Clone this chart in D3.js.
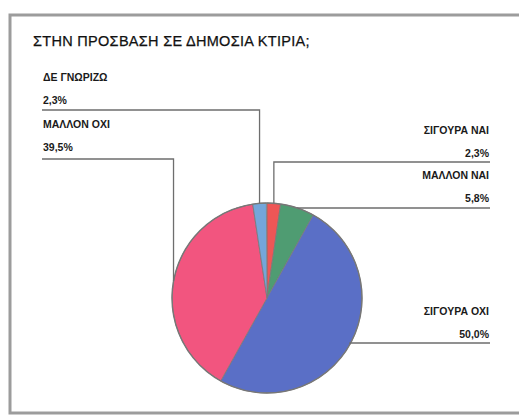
<!DOCTYPE html>
<html>
<head>
<meta charset="utf-8">
<script src="https://cdn.jsdelivr.net/npm/d3@7"></script>
<style>
  html, body { margin: 0; padding: 0; background: #fff; }
  svg { display: block; font-family: "Liberation Sans", Arial, sans-serif; }
</style>
</head>
<body>
<svg id="chart" width="519" height="417"></svg>
<script>
// Survey answers, clockwise from 12 o'clock
const categories = ["ΣΙΓΟΥΡΑ ΝΑΙ", "ΜΑΛΛΟΝ ΝΑΙ", "ΣΙΓΟΥΡΑ ΟΧΙ", "ΜΑΛΛΟΝ ΟΧΙ", "ΔΕ ΓΝΩΡΙΖΩ"];
const values = [2.3, 5.8, 50.0, 39.5, 2.3];
const valueLabels = ["2,3%", "5,8%", "50,0%", "39,5%", "2,3%"];
const colors = ["#ee5656", "#4f9c72", "#5a6fc6", "#f2557f", "#74a6da"];
const title = "ΣΤΗΝ ΠΡΟΣΒΑΣΗ ΣΕ ΔΗΜΟΣΙΑ ΚΤΙΡΙΑ;";

// Label placement: side, baseline of the value line, underline y
const labelLayout = [
  { side: "right", valueY: 157, lineY: 162 },
  { side: "right", valueY: 202, lineY: 208 },
  { side: "right", valueY: 338, lineY: 343 },
  { side: "left",  valueY: 151, lineY: 159 },
  { side: "left",  valueY: 104, lineY: 110 }
];

const svg = d3.select("#chart");

// Outer frame (right side runs past the page edge)
svg.append("rect")
  .attr("x", 10).attr("y", 15)
  .attr("width", 530).attr("height", 398)
  .attr("fill", "#fff")
  .attr("stroke", "#9c9c9c")
  .attr("stroke-width", 3);

svg.append("text")
  .attr("x", 33).attr("y", 46)
  .attr("font-size", 14.5)
  .attr("letter-spacing", 0.3)
  .attr("fill", "#111")
  .attr("stroke", "#111")
  .attr("stroke-width", 0.25)
  .text(title);

const cx = 267, cy = 298, r = 95;
const g = svg.append("g").attr("transform", `translate(${cx},${cy})`);

const pie = d3.pie().sort(null).value(d => d)
  .startAngle(0).endAngle(2 * Math.PI * d3.sum(values) / 100);
const arcs = pie(values);
const arc = d3.arc().innerRadius(0).outerRadius(r);

g.selectAll("path.slice")
  .data(arcs)
  .join("path")
  .attr("class", "slice")
  .attr("d", arc)
  .attr("fill", (d, i) => colors[i])
  .attr("stroke", "#7a7a7a")
  .attr("stroke-width", 0.8);

g.append("circle").attr("r", r).attr("fill", "none")
  .attr("stroke", "#777").attr("stroke-width", 1.4);

// Leader lines and labels
const leftX = 42, rightX = 490;
arcs.forEach((d, i) => {
  const mid = (d.startAngle + d.endAngle) / 2;
  const px = cx + r * Math.sin(mid);
  const py = cy - r * Math.cos(mid);
  const L = labelLayout[i];
  const x0 = L.side === "left" ? leftX : rightX;
  const anchor = L.side === "left" ? "start" : "end";

  svg.append("path")
    .attr("d", `M${x0},${L.lineY}H${px}V${py}`)
    .attr("fill", "none")
    .attr("stroke", "#6e6e6e")
    .attr("stroke-width", 1.3);

  const t = svg.append("g")
    .attr("font-size", 10.5)
    .attr("font-weight", "bold")
    .attr("fill", "#1a1a1a")
    .attr("text-anchor", anchor);
  const tx = L.side === "left" ? leftX + 1 : rightX - 1;
  t.append("text").attr("x", tx).attr("y", L.valueY - 23).text(categories[i]);
  t.append("text").attr("x", tx).attr("y", L.valueY).text(valueLabels[i]);
});
</script>
</body>
</html>
